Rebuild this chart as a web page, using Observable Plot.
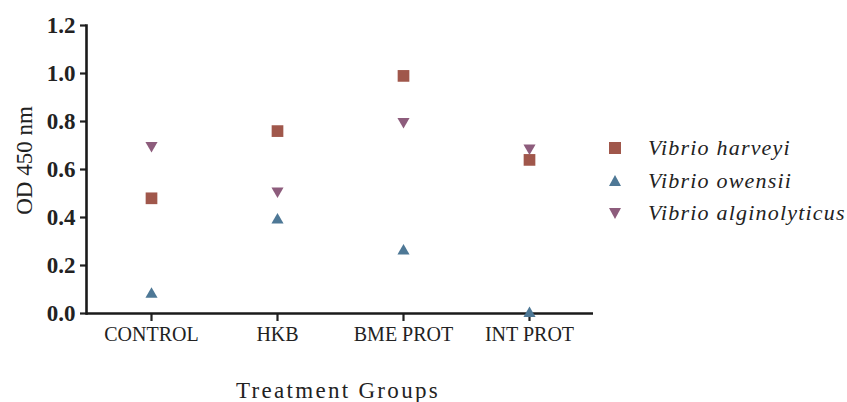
<!DOCTYPE html>
<html>
<head>
<meta charset="utf-8">
<script src="https://cdn.jsdelivr.net/npm/d3@7"></script>
<script src="https://cdn.jsdelivr.net/npm/@observablehq/plot@0.6"></script>
<style>
  html, body { margin: 0; padding: 0; background: #fff; }
  #wrap { position: relative; width: 847px; height: 402px; }
  #legend { position: absolute; left: 600px; top: 132px; font-family: "Liberation Serif", serif; font-style: italic; font-size: 22px; letter-spacing: 1.2px; color: #222; }
  #legend .row { display: flex; align-items: center; height: 32.5px; }
  #legend svg { width: 26px; height: 20px; margin-right: 22px; }
</style>
</head>
<body>
<div id="wrap"><div id="legend"></div></div>
<script>
const groups = ["CONTROL", "HKB", "BME PROT", "INT PROT"];
const seriesNames = ["Vibrio harveyi", "Vibrio owensii", "Vibrio alginolyticus"];
const harveyi = [0.48, 0.76, 0.99, 0.64];
const owensii = [0.08, 0.39, 0.26, 0.00];
const alginolyticus = [0.70, 0.51, 0.80, 0.69];
const yTicks = [0, 0.2, 0.4, 0.6, 0.8, 1.0, 1.2];
const xTitle = "Treatment Groups";
const yTitle = "OD 450 nm";
const colors = ["#A0574B", "#4E7896", "#8D5C7C"];

const seriesValues = [harveyi, owensii, alginolyticus];
const data = seriesValues.flatMap((vals, s) =>
  vals.map((v, i) => ({group: groups[i], value: v, series: seriesNames[s]})));

const style = [
  {symbol: "square", r: 6.6, rotate: 0},
  {symbol: "triangle", r: 4.5, rotate: 0},
  {symbol: "triangle", r: 4.5, rotate: 180}
];

const plot = Plot.plot({
  width: 847,
  height: 402,
  marginLeft: 86,
  marginRight: 254,
  marginTop: 25,
  marginBottom: 89,
  style: {fontFamily: "Liberation Serif, serif", fontSize: "20px", color: "#222", background: "#fff"},
  x: {type: "point", domain: groups, padding: 0.5, align: 0.5},
  y: {domain: [0, 1.2]},
  marks: [
    Plot.axisY({ticks: yTicks, tickFormat: d3.format(".1f"), tickSize: 6, tickPadding: 5, strokeWidth: 2.2,
      fontWeight: "bold", fontSize: 23, label: null}),
    Plot.axisX({tickSize: 8, tickPadding: 5, strokeWidth: 2.2, fontSize: 20, label: null}),
    Plot.frame({anchor: "left", strokeWidth: 2.6, stroke: "#1a1a1a"}),
    Plot.ruleY([0], {strokeWidth: 2.6, stroke: "#1a1a1a"}),
    Plot.text([yTitle], {text: d => d, frameAnchor: "left", rotate: -90, dx: -62, dy: -9,
      lineAnchor: "middle", textAnchor: "middle", fontSize: 23, fill: "#222"}),
    Plot.text([xTitle], {text: d => d, frameAnchor: "bottom", dx: -2, dy: 77,
      lineAnchor: "middle", textAnchor: "middle", fontSize: 23, fill: "#222"}),
    ...seriesNames.map((name, s) => Plot.dot(data.filter(d => d.series === name), {
      x: "group", y: "value", symbol: () => style[s].symbol, r: style[s].r, rotate: style[s].rotate,
      fill: colors[s], stroke: "none"
    }))
  ]
});
d3.select(plot).selectAll("text").filter(function() { return this.textContent === xTitle; })
  .style("letter-spacing", "2.3px");
document.getElementById("wrap").prepend(plot);

// legend
const legend = document.getElementById("legend");
const sym = [
  '<rect x="9" y="4" width="12" height="12"/>',
  '<path d="M15 4 L21 15 L9 15 Z"/>',
  '<path d="M15 16 L21 5 L9 5 Z"/>'
];
seriesNames.forEach((name, s) => {
  const row = document.createElement("div");
  row.className = "row";
  row.innerHTML = `<svg viewBox="0 0 26 20"><g fill="${colors[s]}">${sym[s]}</g></svg><span>${name}</span>`;
  legend.appendChild(row);
});
</script>
</body>
</html>
